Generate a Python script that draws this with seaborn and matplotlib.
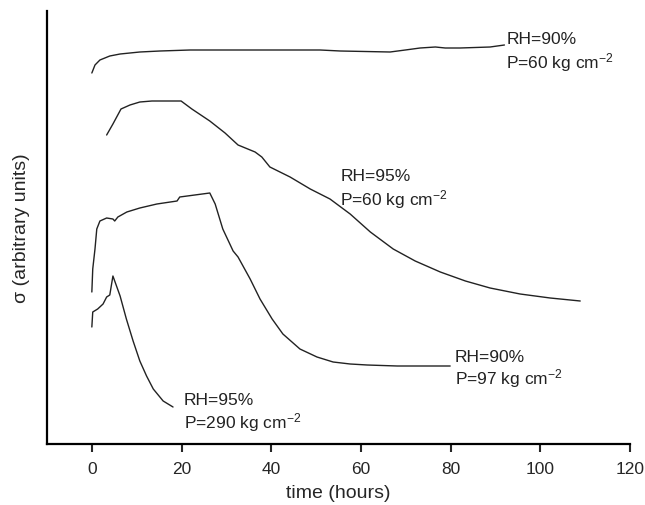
import numpy as np
import pandas as pd
import matplotlib
matplotlib.use('Agg')
import matplotlib.pyplot as plt
import seaborn as sns

# curves: time in hours, sigma in arbitrary units
t_90_60 = [0, 0.7, 1.8, 4.0, 6.3, 10.7, 15.2, 21.9, 30.8, 37.5, 46.4, 50.9, 55.4,
           66.5, 69.9, 73.2, 76.6, 78.8, 82.1, 88.8, 92.0]
s_90_60 = [371, 379, 384, 388, 390, 392, 393, 394, 394, 394, 394, 394, 393,
           392, 394, 396, 397, 396, 396, 397, 399]

t_95_60 = [3.3, 4.7, 6.5, 8.5, 10.7, 13.4, 19.9, 22.3, 26.3, 29.7, 32.6, 36.4, 37.9,
           39.7, 44.2, 48.7, 53.1, 57.6, 62.1, 67.2, 72.1, 77.7, 83.3, 88.8, 95.5,
           102.2, 108.9]
s_95_60 = [309, 320, 335, 339, 342, 343, 343, 335, 323, 311, 299, 292, 287,
           277, 267, 255, 245, 230, 212, 195, 183, 172, 163, 156, 150,
           146, 143]

t_90_97 = [0, 0.2, 0.7, 1.1, 1.8, 3.3, 4.7, 5.1, 5.8, 7.8, 10.7, 14.5, 19.0, 19.6,
           26.3, 27.5, 29.2, 31.5, 32.6, 35.3, 37.5, 40.2, 42.6, 46.4, 50.2, 53.8,
           57.6, 61.4, 68.1, 79.9]
s_90_97 = [152, 175, 195, 215, 223, 226, 225, 223, 227, 232, 236, 240, 243, 247,
           251, 240, 215, 193, 187, 165, 145, 125, 110, 95, 87, 82,
           80, 79, 78, 78]

t_95_290 = [0, 0.2, 1.3, 2.5, 3.3, 4.0, 4.7, 6.3, 7.7, 9.2, 10.7, 12.2, 13.7, 15.9, 18.1]
s_95_290 = [117, 132, 135, 140, 147, 149, 168, 148, 125, 103, 83, 68, 55, 43, 37]

curves = [(t_90_60, s_90_60), (t_95_60, s_95_60), (t_90_97, s_90_97), (t_95_290, s_95_290)]

# label text and anchor (x in hours, baselines of the two lines)
labels = [("RH=90%", "P=60 kg cm$^{-2}$", 92.4, 401, 377),
          ("RH=95%", "P=60 kg cm$^{-2}$", 55.4, 264, 240),
          ("RH=90%", "P=97 kg cm$^{-2}$", 81.0, 83, 61),
          ("RH=95%", "P=290 kg cm$^{-2}$", 20.5, 40, 17)]

xticks = [0, 20, 40, 60, 80, 100, 120]

sns.set_style('ticks')
plt.rcParams['font.family'] = ['Liberation Sans', 'DejaVu Sans']
plt.rcParams['mathtext.fontset'] = 'custom'
plt.rcParams['mathtext.rm'] = 'Liberation Sans'
plt.rcParams['mathtext.it'] = 'Liberation Sans'

fig = plt.figure(figsize=(6.45, 5.06), dpi=100)
ax = fig.add_axes([47 / 645, 61 / 506, 583 / 645, 433 / 506])

for t, s in curves:
    df = pd.DataFrame({'t': t, 's': s})
    sns.lineplot(data=df, x='t', y='s', ax=ax, color='#222222', linewidth=1.0,
                 sort=False, estimator=None)

for l1, l2, x, y1, y2 in labels:
    ax.text(x, y1, l1, fontsize=12.5, va='baseline', ha='left', color='#222222')
    ax.text(x, y2, l2, fontsize=12.5, va='baseline', ha='left', color='#222222')

ax.set_xlim(-10, 120)
ax.set_ylim(0, 433)
ax.set_xticks(xticks)
ax.set_yticks([])
ax.tick_params(axis='x', direction='out', length=6, width=1.5, labelsize=12.5, pad=6)
for side in ['top', 'right']:
    ax.spines[side].set_visible(False)
for side in ['left', 'bottom']:
    ax.spines[side].set_linewidth(1.6)
    ax.spines[side].set_color('black')

ax.set_xlabel('time (hours)', fontsize=14, labelpad=6)
ax.set_ylabel('σ (arbitrary units)', fontsize=14, labelpad=12)

fig.savefig('out.png', dpi=100)
